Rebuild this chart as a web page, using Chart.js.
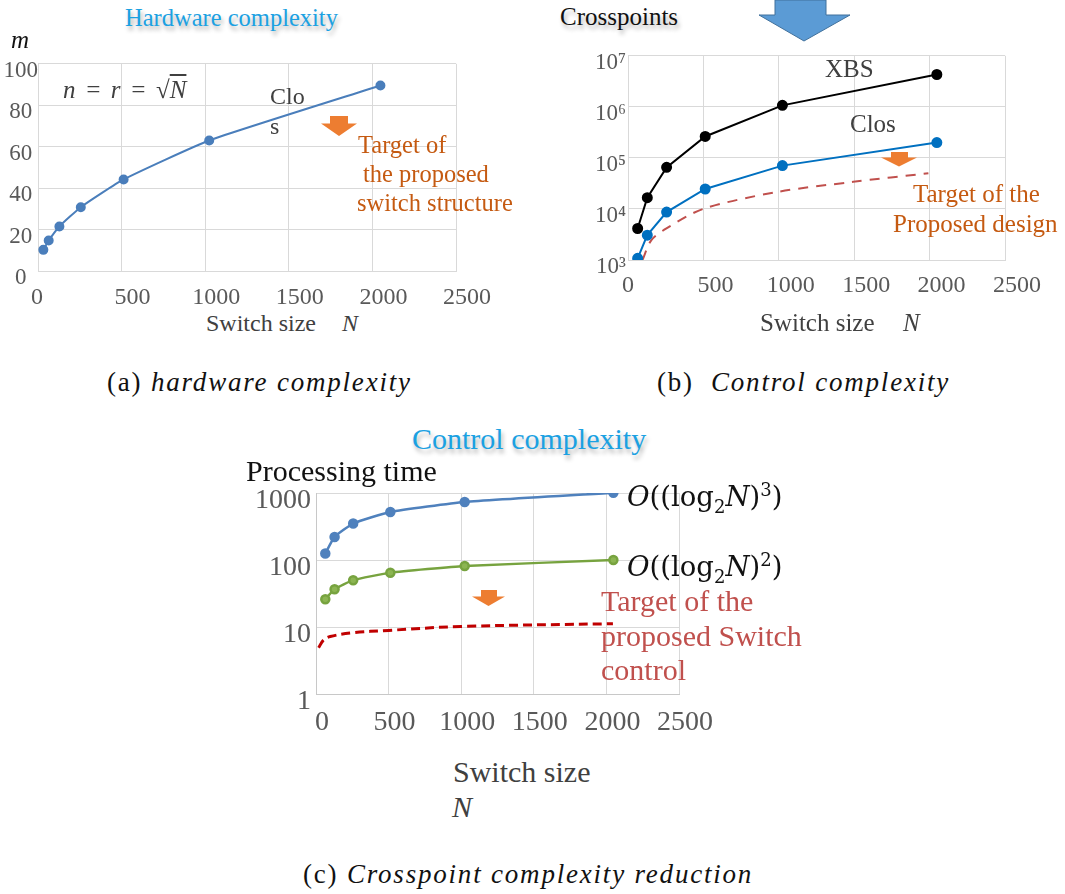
<!DOCTYPE html>
<html>
<head>
<meta charset="utf-8">
<script src="https://cdn.jsdelivr.net/npm/chart.js@4.4.1/dist/chart.umd.min.js"></script>
<style>
  html, body { margin: 0; padding: 0; background: #fff; }
  body { width: 1065px; height: 894px; position: relative; overflow: hidden; font-family: "Liberation Serif", serif; }
  .abs { position: absolute; white-space: nowrap; line-height: 1; }
  .cv { position: absolute; }
  .title-blue { color: #1ba1e2; text-shadow: 2px 4px 4px rgba(0,0,0,0.30); }
  .title-black { color: #111; text-shadow: 2px 4px 4px rgba(0,0,0,0.30); }
  .grey { color: #404040; }
  .orange { color: #c55a11; }
  .red { color: #c0504d; }
  .math { font-family: "DejaVu Serif", serif; color: #111; }
  .cap { color: #111; font-size: 27px; letter-spacing: 1.8px; }
</style>
</head>
<body>
<!-- chart canvases -->
<div class="cv" style="left:0px;top:50px;width:500px;height:260px;"><canvas id="ca"></canvas></div>
<div class="cv" style="left:540px;top:40px;width:525px;height:270px;"><canvas id="cb"></canvas></div>
<div class="cv" style="left:230px;top:470px;width:500px;height:280px;"><canvas id="cc"></canvas></div>

<!-- chart (a) texts -->
<div class="abs title-blue" style="left:125px;top:6px;font-size:24.5px;">Hardware complexity</div>
<div class="abs" style="left:11px;top:27px;font-size:25px;font-style:italic;color:#111;">m</div>
<div class="abs grey" style="left:63px;top:77px;font-size:25px;font-style:italic;word-spacing:3px;">n = r = <span style="font-style:normal">√</span><span style="text-decoration:overline">N</span></div>
<div class="abs grey" style="left:270px;top:84px;font-size:24px;">Clo</div>
<div class="abs grey" style="left:270px;top:114px;font-size:24px;">s</div>
<svg class="abs" style="left:321px;top:116px;" width="37" height="21"><polygon points="9,0 27,0 27,7.5 36,7.5 18,20 0,7.5 9,7.5" fill="#ed7d31"/></svg>
<div class="abs orange" style="left:358px;top:130px;font-size:24.5px;line-height:29px;">Target of<br><span style="margin-left:5px">the proposed</span><br><span style="margin-left:-1px">switch structure</span></div>
<div class="abs grey" style="left:206px;top:311px;font-size:24px;">Switch size</div>
<div class="abs grey" style="left:342px;top:311px;font-size:24px;font-style:italic;">N</div>
<div class="abs cap" style="left:107px;top:369px;">(a) <i>hardware complexity</i></div>

<!-- chart (b) texts -->
<div class="abs title-black" style="left:560px;top:4px;font-size:25px;">Crosspoints</div>
<svg class="abs" style="left:758px;top:0px;" width="94" height="43"><polygon points="17,0 68,0 68,15 92,15 46,41 1,15 17,15" fill="#5b9bd5" stroke="#41719c" stroke-width="1"/></svg>
<div class="abs grey" style="left:825px;top:56px;font-size:25px;">XBS</div>
<div class="abs grey" style="left:850px;top:111px;font-size:25px;">Clos</div>
<svg class="abs" style="left:881px;top:152px;" width="37" height="16"><polygon points="10,0 27,0 27,5.5 36,5.5 18,14.5 0,5.5 10,5.5" fill="#ed7d31"/></svg>
<div class="abs orange" style="left:913px;top:181px;font-size:25px;">Target of the</div>
<div class="abs orange" style="left:893px;top:211px;font-size:25px;">Proposed design</div>
<div class="abs grey" style="left:760px;top:310px;font-size:25px;">Switch size</div>
<div class="abs grey" style="left:903px;top:310px;font-size:25px;font-style:italic;">N</div>
<div class="abs cap" style="left:657px;top:369px;">(b)&nbsp; <i>Control complexity</i></div>

<!-- chart (c) texts -->
<div class="abs title-blue" style="left:412px;top:424px;font-size:30px;">Control complexity</div>
<div class="abs" style="left:246px;top:456px;font-size:30px;color:#111;">Processing time</div>
<div class="abs math" style="left:627px;top:481px;font-size:27.5px;"><i>O</i>((log<sub style="font-size:18px">2</sub><i>N</i>)<sup style="font-size:18px">3</sup>)</div>
<div class="abs math" style="left:627px;top:551px;font-size:27.5px;"><i>O</i>((log<sub style="font-size:18px">2</sub><i>N</i>)<sup style="font-size:18px">2</sup>)</div>
<svg class="abs" style="left:472px;top:590px;" width="34" height="17"><polygon points="9,0 25,0 25,6.5 33,6.5 16.5,16 0,6.5 9,6.5" fill="#ed7d31"/></svg>
<div class="abs red" style="left:601px;top:584px;font-size:30px;line-height:34.5px;">Target of the<br>proposed Switch<br>control</div>
<div class="abs grey" style="left:453px;top:757px;font-size:30px;">Switch size</div>
<div class="abs grey" style="left:452px;top:792px;font-size:30px;font-style:italic;">N</div>
<div class="abs cap" style="left:303px;top:861px;">(c) <i>Crosspoint complexity reduction</i></div>

<script>
// ---------------- data ----------------
const nA = [32, 64, 128, 256, 512, 1024, 2048];
const closM = [10.2, 14.7, 21.5, 30.8, 44.2, 63, 89.5];

const nB = [64, 128, 256, 512, 1024, 2048];
const xbsCross = [4140, 16600, 65300, 263000, 1070000, 4300000];
const closCross = [1080, 3070, 8700, 24600, 70600, 200000];
const targetBN = [96, 155, 255, 498, 985, 1494, 1992];
const targetBCross = [1000, 2450, 4150, 10000, 21400, 34000, 50000];

const nC = [64, 128, 256, 512, 1024, 2048];
const cubicTime = [125, 221, 350, 521, 735, 1010];
const squareTime = [26, 36.5, 50, 64.6, 81.3, 100];
const targetCN = [18, 50, 98, 250, 500, 1000, 2045];
const targetCTime = [4.9, 6.3, 7.2, 8.2, 8.9, 10.2, 11.2];

const xTicks = [0, 500, 1000, 1500, 2000, 2500];
const yTicksA = [0, 20, 40, 60, 80, 100];
const yTicksB = [1e3, 1e4, 1e5, 1e6, 1e7];
const yTickLabelsB = ['10³', '10⁴', '10⁵', '10⁶', '10⁷'];
const yTicksC = [1, 10, 100, 1000];
const yTickLabelsC = ['1', '10', '100', '1000'];

const pts = (xs, ys) => xs.map((x, i) => ({ x: x, y: ys[i] }));
const GRID = '#d9d9d9';
const TICK = '#595959';
const FONT = 'Liberation Serif';

function fixTicks(arr) {
  return function (scale) { scale.ticks = arr.map(v => ({ value: v })); };
}
// plain numbers (no thousands separator); "0" padded so it stays over its gridline
const xLabel = (pad) => (v) => (v === 0 ? '0' + ' '.repeat(pad) : String(v));

// ---------------- chart (a) ----------------
new Chart(document.getElementById('ca'), {
  type: 'scatter',
  data: { datasets: [{
    data: pts(nA, closM), showLine: true, borderColor: '#4a7ebb', backgroundColor: '#4a7ebb',
    borderWidth: 2, pointRadius: 4, pointHoverRadius: 4, tension: 0.15
  }]},
  options: {
    responsive: true, maintainAspectRatio: false, animation: false,
    layout: { padding: { top: 12, right: 44, left: 0, bottom: 0 } },
    plugins: { legend: { display: false }, tooltip: { enabled: false } },
    scales: {
      x: { type: 'linear', min: 0, max: 2500, afterBuildTicks: fixTicks(xTicks),
        afterFit: s => { s.height = 39; },
        grid: { color: GRID, drawTicks: false }, border: { color: GRID },
        ticks: { color: TICK, font: { family: FONT, size: 24 }, padding: 12, labelOffset: 11, autoSkip: false, maxRotation: 0,
          callback: xLabel(4) } },
      y: { type: 'linear', min: 0, max: 100, afterBuildTicks: fixTicks(yTicksA),
        afterFit: s => { s.width = 38; },
        grid: { color: GRID, drawTicks: false }, border: { display: false },
        ticks: { color: TICK, font: { family: FONT, size: 23 }, padding: 0, labelOffset: 7, crossAlign: 'center' } }
    }
  }
});

// ---------------- chart (b) ----------------
new Chart(document.getElementById('cb'), {
  type: 'scatter',
  data: { datasets: [
    { data: pts(nB, xbsCross), showLine: true, borderColor: '#000', backgroundColor: '#000',
      borderWidth: 2, pointRadius: 4.5, pointHoverRadius: 4.5 },
    { data: pts(nB, closCross), showLine: true, borderColor: '#0070c0', backgroundColor: '#0070c0',
      borderWidth: 2, pointRadius: 4.5, pointHoverRadius: 4.5 },
    { data: pts(targetBN, targetBCross), showLine: true, borderColor: '#c0504d', borderDash: [10, 8],
      borderWidth: 2, pointRadius: 0, tension: 0.3 }
  ]},
  options: {
    responsive: true, maintainAspectRatio: false, animation: false,
    layout: { padding: { top: 14, right: 60, left: 0, bottom: 0 } },
    plugins: { legend: { display: false }, tooltip: { enabled: false } },
    scales: {
      x: { type: 'linear', min: 0, max: 2500, afterBuildTicks: fixTicks(xTicks),
        afterFit: s => { s.height = 50; },
        grid: { color: GRID, drawTicks: false }, border: { color: GRID },
        ticks: { color: TICK, font: { family: FONT, size: 24 }, padding: 11, labelOffset: 12, autoSkip: false, maxRotation: 0,
          callback: xLabel(4) } },
      y: { type: 'logarithmic', min: 1e3, max: 1e7, afterBuildTicks: fixTicks(yTicksB),
        afterFit: s => { s.width = 88; },
        grid: { color: GRID, drawTicks: false }, border: { display: false },
        ticks: { color: TICK, font: { family: FONT, size: 23 }, padding: 2, labelOffset: 7,
          callback: (v) => { const i = yTicksB.indexOf(v); return i >= 0 ? yTickLabelsB[i] : ''; } } }
    }
  }
});

// ---------------- chart (c) ----------------
new Chart(document.getElementById('cc'), {
  type: 'scatter',
  data: { datasets: [
    { data: pts(nC, cubicTime), showLine: true, borderColor: '#4f81bd', backgroundColor: '#4f81bd',
      borderWidth: 2.5, pointRadius: 4, pointHoverRadius: 4, tension: 0.15 },
    { data: pts(nC, squareTime), showLine: true, borderColor: '#77a33f', backgroundColor: '#8cb552',
      borderWidth: 2.5, pointRadius: 4, pointHoverRadius: 4, tension: 0.15 },
    { data: pts(targetCN, targetCTime), showLine: true, borderColor: '#c00000', borderDash: [9, 5],
      borderWidth: 3, pointRadius: 0, tension: 0.35 }
  ]},
  options: {
    responsive: true, maintainAspectRatio: false, animation: false,
    layout: { padding: { top: 23, right: 51, left: 0, bottom: 0 } },
    plugins: { legend: { display: false }, tooltip: { enabled: false } },
    scales: {
      x: { type: 'linear', min: 0, max: 2500, afterBuildTicks: fixTicks(xTicks),
        afterFit: s => { s.height = 56; },
        grid: { color: GRID, drawTicks: false }, border: { color: '#c8c8c8' },
        ticks: { color: TICK, font: { family: FONT, size: 28 }, padding: 12, labelOffset: 6, autoSkip: false, maxRotation: 0,
          callback: (v) => String(v) } },
      y: { type: 'logarithmic', min: 1, max: 1000, afterBuildTicks: fixTicks(yTicksC),
        afterFit: s => { s.width = 86; },
        grid: { color: GRID, drawTicks: false }, border: { color: '#c8c8c8' },
        ticks: { color: TICK, font: { family: FONT, size: 28 }, padding: 5, labelOffset: 8,
          callback: (v) => { const i = yTicksC.indexOf(v); return i >= 0 ? yTickLabelsC[i] : ''; } } }
    }
  }
});
</script>
</body>
</html>
